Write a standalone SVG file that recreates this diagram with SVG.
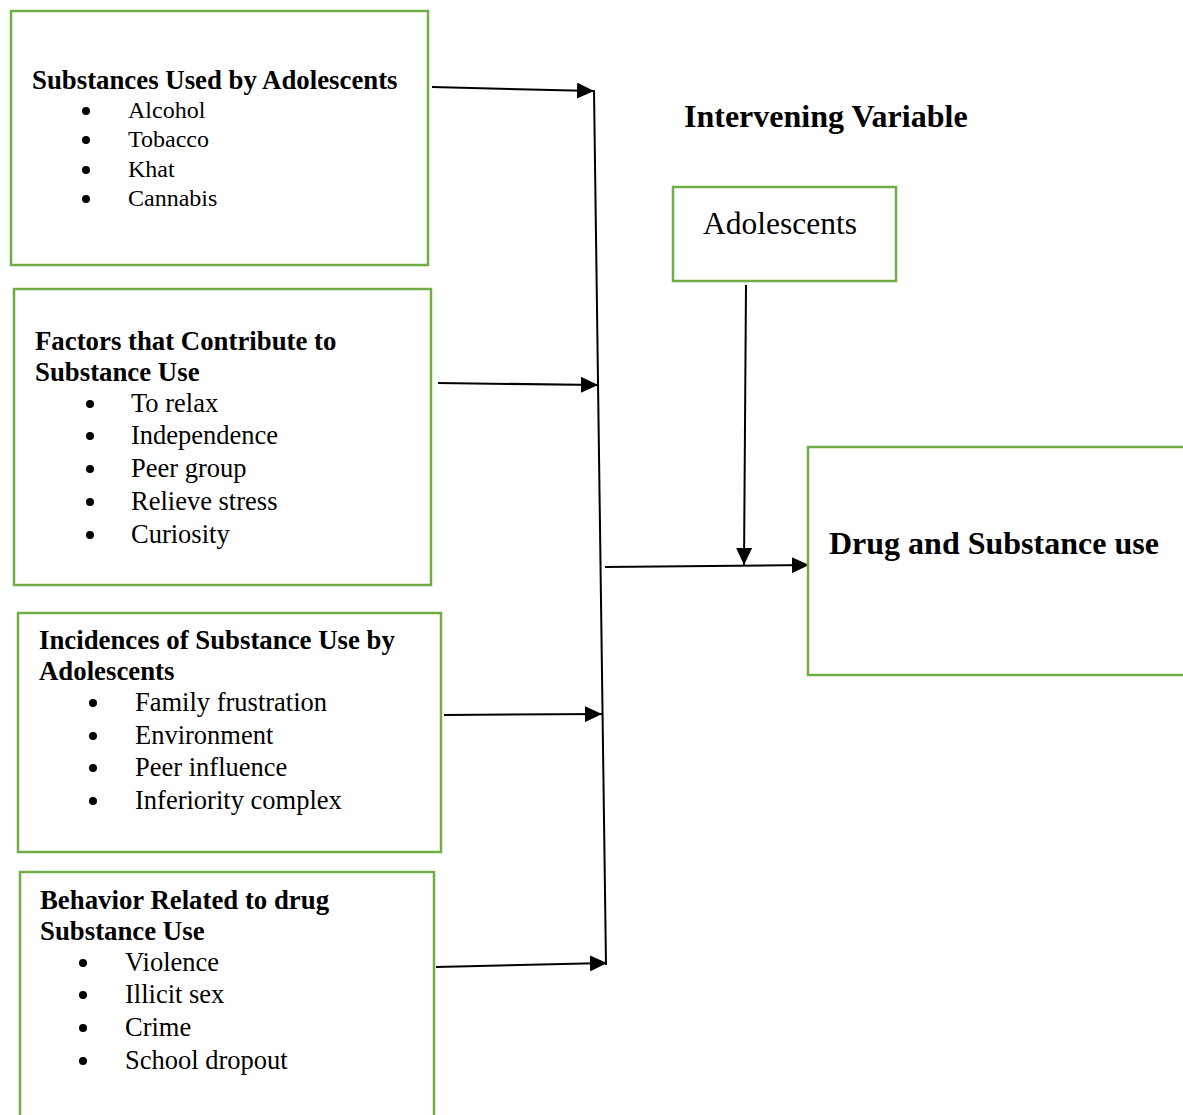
<svg xmlns="http://www.w3.org/2000/svg" width="1183" height="1115" viewBox="0 0 1183 1115">
<style>
.box{fill:#fff;stroke:#70AD47;stroke-width:2.5}
.h{font-family:"Liberation Serif",serif;font-weight:bold;font-size:26.8px;fill:#000}
.i{font-family:"Liberation Serif",serif;font-size:26.5px;fill:#000}
.s{font-size:24px}
.big{font-family:"Liberation Serif",serif;font-weight:bold;font-size:32px;fill:#000}
.bl{fill:#000}
.c{stroke:#000;stroke-width:2;fill:none}
</style>
<defs>
<marker id="ah" markerUnits="userSpaceOnUse" markerWidth="18" markerHeight="16" refX="17" refY="8" orient="auto">
<path d="M0,0 L17,8 L0,16 Z" fill="#000"/>
</marker>
</defs>
<rect width="1183" height="1115" fill="#fff"/>
<g id="connectors">
<line class="c" x1="594" y1="90" x2="606" y2="965" stroke-width="1.5"/>
<line class="c" x1="432" y1="87" x2="594" y2="91" marker-end="url(#ah)"/>
<line class="c" x1="438" y1="383" x2="598" y2="385" marker-end="url(#ah)"/>
<line class="c" x1="444" y1="715" x2="602" y2="714" marker-end="url(#ah)"/>
<line class="c" x1="436" y1="967" x2="607" y2="963" marker-end="url(#ah)"/>
<line class="c" x1="605" y1="567" x2="809" y2="565" marker-end="url(#ah)"/>
<line class="c" x1="746" y1="285" x2="744" y2="565" marker-end="url(#ah)"/>
</g>
<g id="box1">
<rect class="box" x="11" y="11" width="417" height="254"/>
<text class="h" x="32" y="89">Substances Used by Adolescents</text>
<circle class="bl" cx="86" cy="111" r="4"/><text class="i s" x="128" y="118">Alcohol</text>
<circle class="bl" cx="86" cy="140" r="4"/><text class="i s" x="128" y="147">Tobacco</text>
<circle class="bl" cx="86" cy="170" r="4"/><text class="i s" x="128" y="177">Khat</text>
<circle class="bl" cx="86" cy="199" r="4"/><text class="i s" x="128" y="206">Cannabis</text>
</g>
<g id="box2">
<rect class="box" x="14" y="289" width="417" height="296"/>
<text class="h" x="35" y="350">Factors that Contribute to</text>
<text class="h" x="35" y="381">Substance Use</text>
<circle class="bl" cx="90" cy="404" r="4"/><text class="i" x="131" y="412">To relax</text>
<circle class="bl" cx="90" cy="436" r="4"/><text class="i" x="131" y="444">Independence</text>
<circle class="bl" cx="90" cy="469" r="4"/><text class="i" x="131" y="477">Peer group</text>
<circle class="bl" cx="90" cy="502" r="4"/><text class="i" x="131" y="510">Relieve stress</text>
<circle class="bl" cx="90" cy="535" r="4"/><text class="i" x="131" y="543">Curiosity</text>
</g>
<g id="box3">
<rect class="box" x="18" y="613" width="423" height="239"/>
<text class="h" x="39" y="649">Incidences of Substance Use by</text>
<text class="h" x="39" y="680">Adolescents</text>
<circle class="bl" cx="93" cy="703" r="4"/><text class="i" x="135" y="711">Family frustration</text>
<circle class="bl" cx="93" cy="736" r="4"/><text class="i" x="135" y="744">Environment</text>
<circle class="bl" cx="93" cy="768" r="4"/><text class="i" x="135" y="776">Peer influence</text>
<circle class="bl" cx="93" cy="801" r="4"/><text class="i" x="135" y="809">Inferiority complex</text>
</g>
<g id="box4">
<rect class="box" x="20" y="872" width="414" height="260"/>
<text class="h" x="40" y="909">Behavior Related to drug</text>
<text class="h" x="40" y="940">Substance Use</text>
<circle class="bl" cx="83" cy="963" r="4"/><text class="i" x="125" y="971">Violence</text>
<circle class="bl" cx="83" cy="995" r="4"/><text class="i" x="125" y="1003">Illicit sex</text>
<circle class="bl" cx="83" cy="1028" r="4"/><text class="i" x="125" y="1036">Crime</text>
<circle class="bl" cx="83" cy="1061" r="4"/><text class="i" x="125" y="1069">School dropout</text>
</g>
<g id="title">
<text class="big" x="684" y="127">Intervening Variable</text>
</g>
<g id="adolescents">
<rect class="box" x="673" y="187" width="223" height="94"/>
<text class="i" x="703" y="234" style="font-size:31.5px">Adolescents</text>
</g>
<g id="drug">
<rect class="box" x="808" y="447" width="390" height="228"/>
<text class="big" x="829" y="554">Drug and Substance use</text>
</g>
</svg>
